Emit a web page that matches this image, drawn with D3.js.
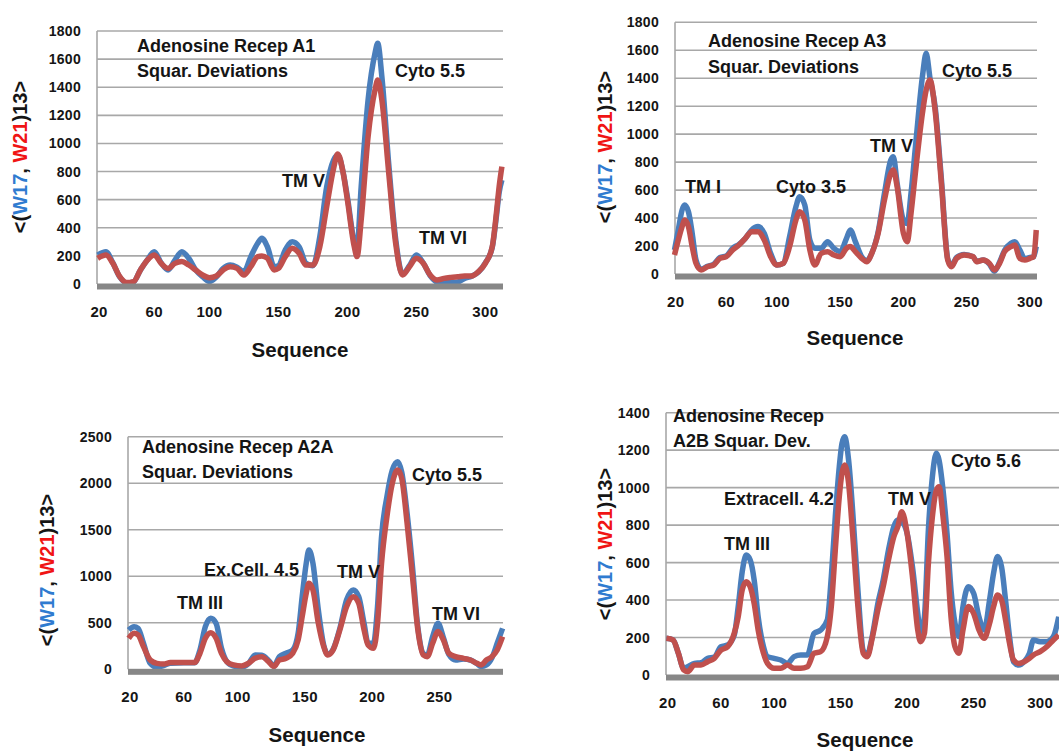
<!DOCTYPE html>
<html>
<head>
<meta charset="utf-8">
<script src="https://cdn.jsdelivr.net/npm/d3@7"></script>
<style>
  html, body { margin: 0; padding: 0; background: #fff; }
  svg { display: block; }
  text { font-family: "Liberation Sans", Arial, sans-serif; font-weight: bold; fill: #151515; }
</style>
</head>
<body>
<svg id="chart" width="1059" height="754"></svg>
<script>
// ---- Adenosine receptor A1 ----
const seqA1 = [19,25,30,35,40,45,50,55,60,65,70,75,80,85,90,95,100,105,110,115,120,125,130,135,138,142,147,150,155,160,165,170,175,180,185,190,193,197,200,205,207,210,215,220,222,225,230,235,240,245,250,255,260,265,270,275,280,285,290,295,300,305,308,310,312];
const w17A1 = [206,230,150,50,8,15,100,172,230,150,100,170,230,183,100,52,17,50,111,135,120,88,195,290,325,265,123,130,242,300,265,147,130,337,692,882,918,790,620,300,265,692,1309,1641,1712,1475,850,320,70,130,206,150,60,15,10,12,15,40,55,85,150,260,480,650,740];
const w21A1 = [183,206,147,52,10,17,100,170,206,147,111,147,160,135,100,64,45,57,100,123,111,64,123,195,200,183,100,111,195,254,218,135,135,265,550,823,925,787,598,265,195,455,1048,1380,1451,1309,787,289,64,123,183,147,64,28,40,47,52,57,57,88,147,265,503,692,835];
const yTicksA1 = [0,200,400,600,800,1000,1200,1400,1600,1800];
const xTicksA1 = [20,60,100,150,200,250,300];
const titleA1 = ["Adenosine Recep A1", "Squar. Deviations"];
const notesA1 = ["Cyto 5.5", "TM V", "TM VI"];

// ---- Adenosine receptor A3 ----
const seqA3 = [19,22,25,27,30,33,36,40,45,50,55,60,65,70,75,80,85,90,95,100,105,110,115,118,122,126,130,135,140,145,150,155,158,162,167,171,175,180,185,190,192,195,200,203,206,210,215,218,221,225,230,235,238,242,248,255,258,263,268,272,276,280,285,288,292,296,300,303,305];
const w17A3 = [172,315,458,493,446,291,100,35,55,70,118,130,184,212,255,315,339,291,148,64,76,267,481,553,493,243,184,184,231,184,160,255,315,231,124,95,150,300,577,815,839,650,386,362,577,958,1411,1578,1400,1200,680,110,60,118,140,124,90,100,70,20,85,170,219,231,172,110,118,124,196];
const w21A3 = [136,243,339,386,339,196,76,29,52,64,112,124,172,207,255,303,303,243,124,64,76,196,386,446,386,172,64,148,160,136,124,184,196,160,112,88,148,291,529,720,744,625,291,231,434,768,1149,1316,1387,1173,648,100,52,112,136,124,88,100,76,29,76,160,196,207,112,100,112,124,315];
const yTicksA3 = [0,200,400,600,800,1000,1200,1400,1600,1800];
const xTicksA3 = [20,60,100,150,200,250,300];
const titleA3 = ["Adenosine Recep A3", "Squar. Deviations"];
const notesA3 = ["Cyto 5.5", "TM V", "TM I", "Cyto 3.5"];

// ---- Adenosine receptor A2A ----
const seqA2A = [19,23,26,30,35,40,45,50,60,68,72,76,80,84,88,92,97,103,108,113,118,123,127,131,136,141,145,148,151,153,156,160,164,167,171,176,181,186,190,194,197,201,204,207,211,215,219,222,226,230,234,238,241,245,249,253,257,262,268,273,278,281,285,289,293,297];
const w17A2A = [423,458,440,280,64,21,40,65,70,70,208,458,548,494,226,82,35,25,60,154,150,95,35,136,172,208,387,781,1139,1282,1139,638,260,160,215,440,745,853,781,494,280,280,673,1426,1855,2142,2232,2120,1676,1103,450,170,150,351,494,340,160,100,110,100,60,30,47,120,280,440];
const w21A2A = [333,387,369,244,100,64,57,72,72,72,172,333,394,333,172,82,47,36,64,118,136,82,29,100,118,172,315,566,817,924,853,494,244,154,208,423,673,781,709,423,261,226,494,1139,1641,1999,2142,2052,1569,996,423,154,136,280,405,315,172,136,118,100,64,47,100,136,208,351];
const yTicksA2A = [0,500,1000,1500,2000,2500];
const xTicksA2A = [20,60,100,150,200,250];
const titleA2A = ["Adenosine Recep A2A", "Squar. Deviations"];
const notesA2A = ["Cyto 5.5", "Ex.Cell. 4.5", "TM V", "TM III", "TM VI"];

// ---- Adenosine receptor A2B ----
const seqA2B = [19,24,28,32,35,40,45,50,55,60,65,70,73,76,79,82,85,88,92,95,100,105,110,115,120,125,130,135,140,143,146,149,151,153,156,159,163,167,170,174,178,182,186,190,193,196,200,204,208,210,213,216,219,222,224,227,230,233,236,239,242,246,250,254,258,262,265,268,271,274,277,280,284,288,292,295,300,305,310,314];
const w17A2B = [196,187,116,35,44,62,65,89,95,151,160,213,365,551,640,614,507,311,151,98,89,80,62,98,107,107,222,240,294,525,845,1112,1236,1272,1147,881,454,130,110,215,382,507,667,792,827,818,756,578,329,222,311,774,1058,1183,1147,987,756,454,276,205,365,471,436,311,240,400,543,632,578,400,205,71,53,71,116,187,178,178,205,311];
const w21A2B = [196,187,116,27,18,53,53,71,89,133,151,222,311,454,498,471,382,240,116,62,36,36,53,36,36,44,116,125,205,365,667,952,1076,1121,1023,756,365,116,98,205,347,471,614,738,792,872,756,525,240,178,222,596,845,987,1005,845,632,311,151,116,240,365,329,240,196,276,365,427,400,294,169,80,62,71,89,107,125,151,187,213];
const yTicksA2B = [0,200,400,600,800,1000,1200,1400];
const xTicksA2B = [20,60,100,150,200,250,300];
const titleA2B = ["Adenosine Recep", "A2B Squar. Dev."];
const notesA2B = ["Cyto 5.6", "Extracell. 4.2", "TM V", "TM III"];

// Layout of the four panels (pixel geometry, label placement)
const panels = [
  { seq: seqA1, w17: w17A1, w21: w21A1, yTicks: yTicksA1, xTicks: xTicksA1, title: titleA1, notes: notesA1,
    left: 97, right: 503, top: 31, bottom: 284, xDomain: [18.5, 312.8],
    yLabel: [20, 157], titleAt: [137, 52, 77], xLabel: [300, 357],
    notePos: [[395, 77], [282, 187], [419, 244]] },
  { seq: seqA3, w17: w17A3, w21: w21A3, yTicks: yTicksA3, xTicks: xTicksA3, title: titleA3, notes: notesA3,
    left: 675, right: 1037, top: 22.3, bottom: 274, xDomain: [19.4, 305.6],
    yLabel: [605, 147], titleAt: [708, 47, 73], xLabel: [855, 345],
    notePos: [[942, 77], [870, 152], [685, 193], [776, 193]] },
  { seq: seqA2A, w17: w17A2A, w21: w21A2A, yTicks: yTicksA2A, xTicks: xTicksA2A, title: titleA2A, notes: notesA2A,
    left: 128, right: 503, top: 436.7, bottom: 669.3, xDomain: [18.5, 297.3],
    yLabel: [47, 570], titleAt: [142, 453, 478], xLabel: [317, 742],
    notePos: [[412, 481], [204, 576], [337, 578], [177, 609], [432, 620]] },
  { seq: seqA2B, w17: w17A2B, w21: w21A2B, yTicks: yTicksA2B, xTicks: xTicksA2B, title: titleA2B, notes: notesA2B,
    left: 666, right: 1059, top: 412.7, bottom: 675, xDomain: [18.7, 314.2],
    yLabel: [605, 544], titleAt: [673, 422, 447], xLabel: [865, 747],
    notePos: [[951, 467], [724, 505], [888, 505], [724, 550]] }
];

const BLUE = "#4a7ebb", RED = "#c0504d", GRID = "#a8a8a8", BASE = "#878787";
const svg = d3.select("#chart");
svg.append("rect").attr("width", 1059).attr("height", 754).attr("fill", "#fff");

panels.forEach(p => {
  const g = svg.append("g");
  const yMax = d3.max(p.yTicks);
  const x = d3.scaleLinear().domain(p.xDomain).range([p.left, p.right]);
  const y = d3.scaleLinear().domain([0, yMax]).range([p.bottom, p.top]);

  // horizontal gridlines
  g.selectAll(".grid").data(p.yTicks.filter(v => v > 0)).join("line")
    .attr("x1", p.left).attr("x2", p.right)
    .attr("y1", d => y(d)).attr("y2", d => y(d))
    .attr("stroke", GRID).attr("stroke-width", 1.6);

  // value axis line
  g.append("line").attr("x1", p.left).attr("x2", p.left)
    .attr("y1", y(yMax)).attr("y2", y(0))
    .attr("stroke", GRID).attr("stroke-width", 1.6);

  // y tick labels
  g.selectAll(".ytl").data(p.yTicks).join("text")
    .attr("x", p.left - 16).attr("y", d => y(d)).attr("dy", "0.36em")
    .attr("text-anchor", "end").attr("font-size", 14).attr("letter-spacing", 0.3).text(d => d);

  // x tick labels
  g.selectAll(".xtl").data(p.xTicks).join("text")
    .attr("x", d => x(d)).attr("y", y(0) + 33)
    .attr("text-anchor", "middle").attr("font-size", 15).attr("letter-spacing", 0.3).text(d => d);

  // series
  const pts17 = p.seq.map((s, i) => [s, p.w17[i]]);
  const pts21 = p.seq.map((s, i) => [s, p.w21[i]]);
  const line = d3.line().x(d => x(d[0])).y(d => y(d[1])).curve(d3.curveMonotoneX);
  g.append("path").attr("d", line(pts17)).attr("fill", "none")
    .attr("stroke", BLUE).attr("stroke-width", 5.5).attr("stroke-linejoin", "round");
  g.append("path").attr("d", line(pts21)).attr("fill", "none")
    .attr("stroke", RED).attr("stroke-width", 5.5).attr("stroke-linejoin", "round");

  // category axis band at zero
  g.append("rect").attr("x", p.left).attr("y", y(0) - 0.5)
    .attr("width", p.right - p.left).attr("height", 6).attr("fill", BASE);

  // title block
  g.selectAll(".ttl").data(p.title).join("text")
    .attr("x", p.titleAt[0]).attr("y", (d, i) => p.titleAt[1 + i])
    .attr("font-size", 18).text(d => d);

  // region annotations
  g.selectAll(".note").data(p.notes).join("text")
    .attr("x", (d, i) => p.notePos[i][0]).attr("y", (d, i) => p.notePos[i][1])
    .attr("font-size", 18).text(d => d);

  // axis titles
  g.append("text").attr("x", p.xLabel[0]).attr("y", p.xLabel[1])
    .attr("text-anchor", "middle").attr("font-size", 20.5).text("Sequence");

  const yl = g.append("text")
    .attr("transform", `translate(${p.yLabel[0]},${p.yLabel[1]}) rotate(-90)`)
    .attr("text-anchor", "middle").attr("dy", "0.35em").attr("font-size", 20);
  yl.append("tspan").text("<(");
  yl.append("tspan").text("W17").style("fill", "#2f7bd0");
  yl.append("tspan").text(", ");
  yl.append("tspan").text("W21").style("fill", "#f01414");
  yl.append("tspan").text(")13>");
});
</script>
</body>
</html>
